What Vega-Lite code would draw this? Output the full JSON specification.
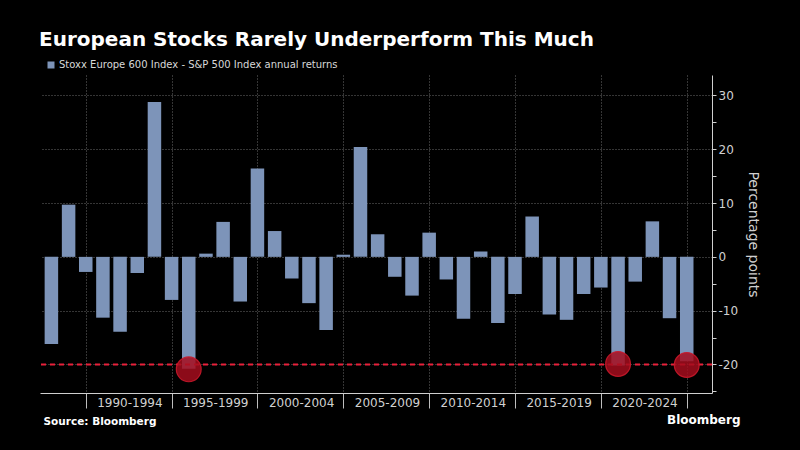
{
  "$schema": "https://vega.github.io/schema/vega-lite/v6.json",
  "width": 672,
  "height": 318,
  "autosize": {"type": "none"},
  "padding": {"left": 40, "top": 75, "right": 88, "bottom": 57},
  "background": "#000000",
  "title": {
    "text": "European Stocks Rarely Underperform This Much",
    "anchor": "start",
    "font": "DejaVu Sans",
    "fontSize": 20,
    "fontWeight": "bold",
    "color": "#ffffff",
    "offset": 10
  },
  "datasets": {
    "bars": [
      {"date": "1987-12-31", "value": -16.2},
      {"date": "1988-12-31", "value": 9.7},
      {"date": "1989-12-31", "value": -2.8},
      {"date": "1990-12-31", "value": -11.3},
      {"date": "1991-12-31", "value": -13.9},
      {"date": "1992-12-31", "value": -3.0},
      {"date": "1993-12-31", "value": 28.8},
      {"date": "1994-12-31", "value": -8.0},
      {"date": "1995-12-31", "value": -20.8},
      {"date": "1996-12-31", "value": 0.6},
      {"date": "1997-12-31", "value": 6.5},
      {"date": "1998-12-31", "value": -8.3},
      {"date": "1999-12-31", "value": 16.4},
      {"date": "2000-12-31", "value": 4.8},
      {"date": "2001-12-31", "value": -4.0},
      {"date": "2002-12-31", "value": -8.6},
      {"date": "2003-12-31", "value": -13.6},
      {"date": "2004-12-31", "value": 0.4},
      {"date": "2005-12-31", "value": 20.4},
      {"date": "2006-12-31", "value": 4.2},
      {"date": "2007-12-31", "value": -3.7},
      {"date": "2008-12-31", "value": -7.2},
      {"date": "2009-12-31", "value": 4.5},
      {"date": "2010-12-31", "value": -4.2},
      {"date": "2011-12-31", "value": -11.5},
      {"date": "2012-12-31", "value": 1.0},
      {"date": "2013-12-31", "value": -12.3},
      {"date": "2014-12-31", "value": -6.9},
      {"date": "2015-12-31", "value": 7.5},
      {"date": "2016-12-31", "value": -10.7},
      {"date": "2017-12-31", "value": -11.7},
      {"date": "2018-12-31", "value": -6.9},
      {"date": "2019-12-31", "value": -5.7},
      {"date": "2020-12-31", "value": -20.2},
      {"date": "2021-12-31", "value": -4.6},
      {"date": "2022-12-31", "value": 6.6},
      {"date": "2023-12-31", "value": -11.4},
      {"date": "2024-12-31", "value": -19.4}
    ],
    "highlights": [
      {"date": "1995-12-31", "value": -20.9},
      {"date": "2020-12-31", "value": -19.9},
      {"date": "2024-12-31", "value": -20.1}
    ],
    "threshold": [
      {"threshold": -20}
    ]
  },
  "layer": [
    {
      "data": {"name": "bars"},
      "mark": {"type": "bar", "width": 13.5},
      "encoding": {
        "x": {
          "field": "date",
          "type": "temporal",
          "scale": {"domain": ["1987-08-17", "2026-03-07"]},
          "axis": {
            "values": [
              {"year": 1990, "month": 1, "date": 1},
              {"year": 1995, "month": 1, "date": 1},
              {"year": 2000, "month": 1, "date": 1},
              {"year": 2005, "month": 1, "date": 1},
              {"year": 2010, "month": 1, "date": 1},
              {"year": 2015, "month": 1, "date": 1},
              {"year": 2020, "month": 1, "date": 1},
              {"year": 2025, "month": 1, "date": 1}
            ],
            "labelExpr": "year(datum.value) < 2025 ? year(datum.value) + '-' + (year(datum.value) + 4) : ''",
            "grid": true,
            "gridColor": "#6a6a6a",
            "gridDash": [1, 2],
            "tickSize": 15,
            "tickColor": "#bdbdbd",
            "domainColor": "#cfcfcf",
            "labelFontSize": 12,
            "labelColor": "#d0d0d0",
            "labelOffset": 43.6,
            "labelPadding": -11,
            "labelFlush": false,
            "labelOverlap": false,
            "labelBound": false,
            "title": "Source: Bloomberg",
            "titleFontSize": 10.5,
            "titleFontWeight": "bold",
            "titleColor": "#ffffff",
            "titleAlign": "left",
            "titleBaseline": "alphabetic",
            "titleX": 3,
            "titleY": 31
          }
        },
        "y": {
          "field": "value",
          "type": "quantitative",
          "scale": {"domain": [-25.3, 33.8], "nice": false, "zero": false},
          "axis": {
            "orient": "right",
            "values": [-20, -10, 0, 10, 20, 30],
            "labelExpr": "'' + datum.value",
            "grid": true,
            "gridColor": "#6a6a6a",
            "gridDash": [1, 2],
            "tickSize": 4,
            "tickColor": "#cfcfcf",
            "domainColor": "#cfcfcf",
            "labelPadding": 2,
            "labelFontSize": 12,
            "labelColor": "#d0d0d0",
            "title": "Percentage points",
            "titleFontSize": 14,
            "titleFontWeight": "normal",
            "titleColor": "#d0d0d0",
            "titlePadding": 8
          }
        },
        "color": {
          "datum": "Stoxx Europe 600 Index - S&P 500 Index annual returns",
          "type": "nominal",
          "scale": {"range": ["#7d94b9"]},
          "legend": {
            "orient": "none",
            "legendX": 6,
            "legendY": -15,
            "title": null,
            "padding": 0,
            "symbolType": "square",
            "symbolSize": 49,
            "symbolStrokeWidth": 0,
            "labelFontSize": 10,
            "labelColor": "#d8d8d8",
            "labelOffset": 3,
            "labelLimit": 0
          }
        }
      }
    },
    {
      "data": {"name": "threshold"},
      "mark": {"type": "rule", "color": "#e8203a", "strokeWidth": 2, "strokeDash": [5, 4]},
      "encoding": {
        "y": {"field": "threshold", "type": "quantitative", "axis": null}
      }
    },
    {
      "data": {"name": "highlights"},
      "mark": {
        "type": "point",
        "shape": "circle",
        "size": 616,
        "fill": "#a50d1d",
        "fillOpacity": 0.85,
        "stroke": "#c8182a",
        "strokeWidth": 1.2,
        "strokeOpacity": 0.9
      },
      "encoding": {
        "x": {
          "field": "date",
          "type": "temporal",
          "axis": {
            "orient": "bottom",
            "grid": false,
            "labels": false,
            "ticks": false,
            "domain": false,
            "title": "Bloomberg",
            "titleFontSize": 12,
            "titleFontWeight": "bold",
            "titleColor": "#ffffff",
            "titleAlign": "right",
            "titleBaseline": "alphabetic",
            "titleX": 700,
            "titleY": 30
          }
        },
        "y": {
          "field": "value",
          "type": "quantitative",
          "axis": {
            "orient": "right",
            "values": [-25, -15, -5, 5, 15, 25],
            "labels": false,
            "grid": false,
            "domain": false,
            "tickSize": 4,
            "tickColor": "#cfcfcf",
            "title": null
          }
        }
      }
    }
  ],
  "resolve": {"axis": {"x": "independent", "y": "independent"}},
  "config": {
    "view": {"stroke": null},
    "font": "DejaVu Sans",
    "axis": {"labelFont": "DejaVu Sans", "titleFont": "DejaVu Sans"},
    "legend": {"labelFont": "DejaVu Sans"}
  }
}
